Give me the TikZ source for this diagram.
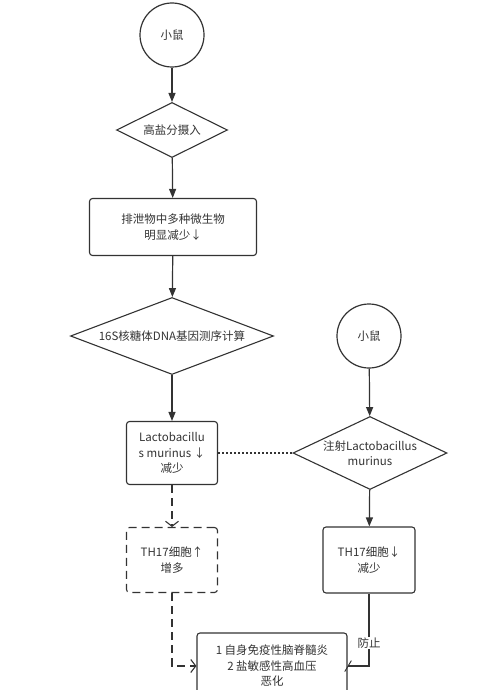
\documentclass[tikz,border=0pt]{standalone}
\usepackage{fontspec}
\setmainfont{Noto Sans CJK SC}
\usetikzlibrary{
  shapes.geometric,
  arrows.meta
}
\definecolor{ink}{HTML}{333333}

\begin{document}
\begin{tikzpicture}[
    x=1pt, y=-1pt, font=\fontsize{11.5}{15.5}\selectfont, text=ink,
    mouse/.style={
      circle,
      draw=ink,
      line width=1.2pt,
      minimum size=64pt,
      inner sep=0pt
    },
    decision/.style={
      diamond,
      draw=ink,
      line width=1.1pt,
      inner sep=0pt,
      align=center
    },
    stepbox/.style={
      rectangle,
      rounded corners=3pt,
      draw=ink,
      line width=1.1pt,
      inner sep=2pt,
      align=center
    },
    flow/.style={draw=ink, line width=1.2pt, -{Triangle[length=9pt,width=7pt]}},
    guess/.style={draw=ink, line width=1.2pt, dash pattern=on 8pt off 5pt,
      -{Straight Barb[length=5pt,width=13pt,line width=1.1pt]}},
    link/.style={draw=ink, line width=1.3pt, dash pattern=on 2pt off 2pt},
    stop/.style={draw=ink, line width=1.2pt, -{Bar[width=11pt,slant=0.6,line width=1.1pt]}}
  ]
  \useasboundingbox (0,0) rectangle (482,690);
  \clip (0,0) rectangle (482,690);

  % left column
  \node[mouse] (mouse) at (172,35) {小鼠};
  \node[decision, aspect=2, minimum width=111pt, minimum height=55pt] (salt) at (172,130) {高盐分摄入};
  \node[stepbox, minimum width=167pt, minimum height=57pt] (excreta) at (173,227) {排泄物中多种微生物\\明显减少↓};
  \node[decision, aspect=2.64, minimum width=203pt, minimum height=77pt] (seq) at (172,336) {16S核糖体DNA基因测序计算};
  \node[stepbox, minimum width=91pt, minimum height=63pt] (lacto) at (172,453) {Lactobacillu\\s murinus ↓\\减少};
  \node[stepbox, dash pattern=on 8pt off 5pt, minimum width=91pt, minimum height=65pt] (th17up) at (172,560) {TH17细胞↑\\增多};

  % right column
  \node[mouse] (mouse2) at (369,336) {小鼠};
  \node[decision, aspect=2.1, inner sep=-4pt, minimum width=154pt, minimum height=73pt] (inject) at (370,453) {注射Lactobacillus\\murinus};
  \node[stepbox, minimum width=92pt, minimum height=66pt] (th17down) at (369,560) {TH17细胞↓\\减少};

  \node[stepbox, minimum width=150pt, minimum height=66pt] (effect) at (272,666) {1 自身免疫性脑脊髓炎\\2 盐敏感性高血压\\恶化};

  \draw[flow] (mouse) -- (salt);
  \draw[flow] (salt) -- (excreta);
  \draw[flow] (excreta) -- (seq);
  \draw[flow] (seq) -- (lacto);
  \draw[guess] (lacto) -- (th17up);
  \draw[guess] (th17up) |- (effect);
  \draw[link] (lacto) -- (inject);
  \draw[flow] (mouse2) -- (inject);
  \draw[flow] (inject) -- (th17down);
  \draw[stop] (th17down) |- node[pos=0.34, fill=white, inner sep=1pt] {防止} (effect);
\end{tikzpicture}
\end{document}
